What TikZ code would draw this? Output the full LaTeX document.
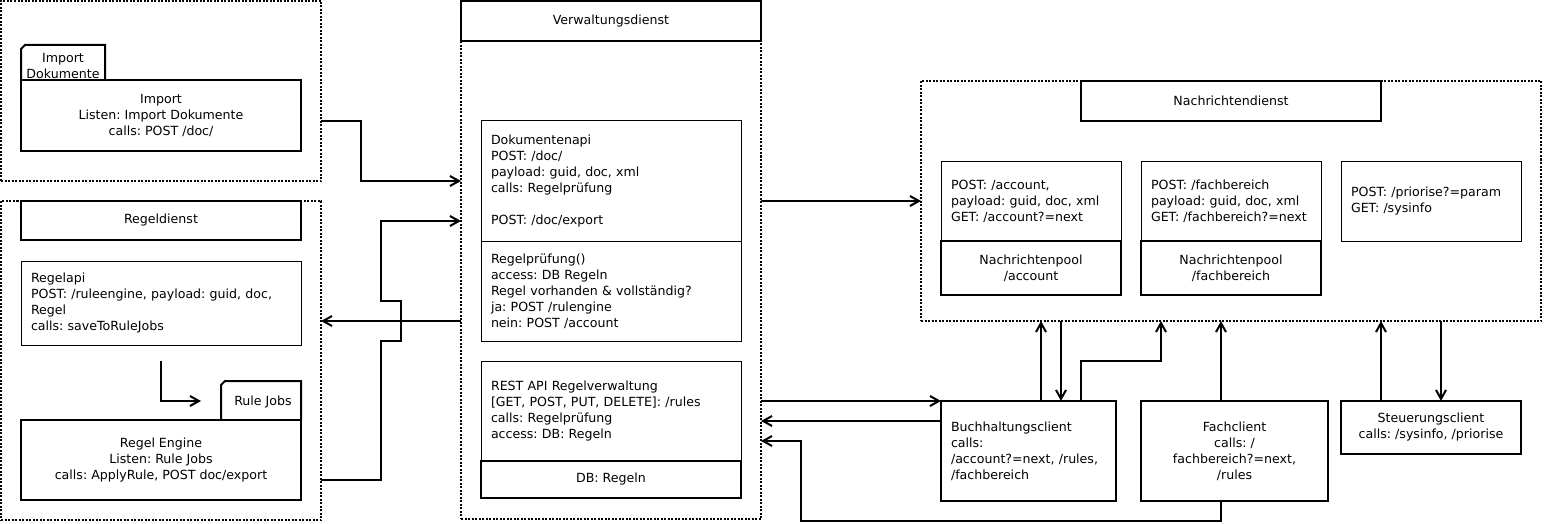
\documentclass[tikz,border=0pt]{standalone}
\usepackage{fontspec}
\setmainfont{DejaVu Sans}
\usetikzlibrary{arrows.meta}
\begin{document}
\frenchspacing
\begin{tikzpicture}[x=1pt,y=-1pt,
  every node/.style={font=\frenchspacing\fontsize{12.6}{16}\selectfont, inner sep=0pt, outer sep=0pt},
  cont/.style={draw, line width=2pt, dash pattern=on 2pt off 1.5pt},
  hbox/.style={draw, line width=2pt, align=center, fill=white},
  tbox/.style={draw, line width=1pt, align=left, inner xsep=10pt},
  tabshape/.style={draw, line width=2pt, fill=white},
  conn/.style={line width=2pt},
  arr/.style={conn, -{Straight Barb[length=9pt,width=10pt]}},
]
\useasboundingbox (0,0) rectangle (1544,524);

% containers
\node[cont, minimum width=320pt, minimum height=180pt] (impc) at (161,91) {};
\node[cont, minimum width=320pt, minimum height=319pt] (regc) at (161,360.5) {};
\node[cont, minimum width=300pt, minimum height=518pt] (verc) at (611,260) {};
\node[cont, minimum width=620pt, minimum height=240pt] (nachc) at (1231,201) {};

% Import area
\draw[tabshape] (21,80) -- (21,49) -- (25,45) -- (105,45) -- (105,80);
\node[align=center] (imptab) at (63,65.5) {Import\\Dokumente};
\node[hbox, minimum width=280pt, minimum height=71pt] (imp) at (161,115.5) {Import\\Listen: Import Dokumente\\calls: POST /doc/};

% Regeldienst area
\node[hbox, minimum width=280pt, minimum height=39pt] (regh) at (161,220.5) {Regeldienst};
\node[tbox, text width=260pt, minimum height=84pt] (regapi) at (161,303) {Regelapi\\POST: /ruleengine, payload: guid, doc,\\Regel\\calls: saveToRuleJobs};
\draw[tabshape] (221,420) -- (221,385) -- (225,381) -- (301,381) -- (301,420);
\node (rjtab) at (263,401.5) {Rule Jobs};
\node[hbox, minimum width=280pt, minimum height=80pt] (reng) at (161,460) {Regel Engine\\Listen: Rule Jobs\\calls: ApplyRule, POST doc/export};

% Verwaltungsdienst
\node[hbox, minimum width=300pt, minimum height=40pt] (verh) at (611,21) {Verwaltungsdienst};
\node[tbox, text width=240pt, minimum height=120pt] (dokapi) at (611,181) {Dokumentenapi\\POST: /doc/\\payload: guid, doc, xml\\calls: Regelprüfung\\[16pt]POST: /doc/export};
\node[tbox, text width=240pt, minimum height=100pt] (regpr) at (611,291) {Regelprüfung()\\access: DB Regeln\\Regel vorhanden \& vollständig?\\ja: POST /rulengine\\nein: POST /account};
\node[tbox, text width=240pt, minimum height=100pt] (rest) at (611,411) {REST API Regelverwaltung\\{[}GET, POST, PUT, DELETE{]}: /rules\\calls: Regelprüfung\\access: DB: Regeln};
\node[hbox, minimum width=260pt, minimum height=37pt] (db) at (611,479.5) {DB: Regeln};

% Nachrichtendienst
\node[hbox, minimum width=300pt, minimum height=40pt] (nachh) at (1231,101) {Nachrichtendienst};
\node[tbox, text width=160pt, minimum height=80pt] (acc) at (1031,201) {POST: /account,\\payload: guid, doc, xml\\GET: /account?=next};
\node[hbox, minimum width=180pt, minimum height=54pt] (accpool) at (1031,268) {Nachrichtenpool\\/account};
\node[tbox, text width=160pt, minimum height=80pt] (fach) at (1231,201) {POST: /fachbereich\\payload: guid, doc, xml\\GET: /fachbereich?=next};
\node[hbox, minimum width=180pt, minimum height=54pt] (fachpool) at (1231,268) {Nachrichtenpool\\/fachbereich};
\node[tbox, text width=160pt, minimum height=80pt] (prio) at (1431,201) {POST: /priorise?=param\\GET: /sysinfo};

% clients
\node[draw, line width=2pt, align=left, inner xsep=10pt, text width=155pt, minimum height=100pt] (buch) at (1028.5,451) {Buchhaltungsclient\\calls:\\/account?=next, /rules,\\/fachbereich};
\node[hbox, minimum width=187pt, minimum height=100pt] (fachc) at (1234.5,451) {Fachclient\\calls: /\\fachbereich?=next,\\/rules};
\node[hbox, minimum width=180pt, minimum height=53pt] (steu) at (1431,427.5) {Steuerungsclient\\calls: /sysinfo, /priorise};

% connector end points
\coordinate (c1s) at (321,121);
\coordinate (c1e) at (461,181);
\coordinate (c2s) at (461,321);
\coordinate (c2e) at (321,321);
\coordinate (c3s) at (321,480);
\coordinate (c3e) at (461,221);
\coordinate (c4s) at (161,361);
\coordinate (c4e) at (201,401);
\coordinate (c5s) at (761,201);
\coordinate (c5e) at (921,201);
\coordinate (c6s) at (761,401);
\coordinate (c6e) at (941,401);
\coordinate (c7s) at (941,421);
\coordinate (c7e) at (761,421);
\coordinate (c8s) at (1221,501);
\coordinate (c8e) at (761,441);
\coordinate (c9s) at (1041,401);
\coordinate (c9e) at (1041,321);
\coordinate (c10s) at (1061,321);
\coordinate (c10e) at (1061,401);
\coordinate (c11s) at (1081,401);
\coordinate (c11e) at (1161,321);
\coordinate (c12s) at (1221,401);
\coordinate (c12e) at (1221,321);
\coordinate (c13s) at (1381,401);
\coordinate (c13e) at (1381,321);
\coordinate (c14s) at (1441,321);
\coordinate (c14e) at (1441,401);

% connectors
\draw[arr] (c1s) -- (361,121) -- (361,181) -- (c1e);
\draw[arr] (c2s) -- (c2e);
\draw[arr] (c3s) -- (381,480) -- (381,341) -- (401,341) -- (401,301) -- (381,301) -- (381,221) -- (c3e);
\draw[arr] (c4s) -- (161,401) -- (c4e);
\draw[arr] (c5s) -- (c5e);
\draw[arr] (c6s) -- (c6e);
\draw[arr] (c7s) -- (c7e);
\draw[arr] (c8s) -- (1221,521) -- (801,521) -- (801,441) -- (c8e);
\draw[arr] (c9s) -- (c9e);
\draw[arr] (c10s) -- (c10e);
\draw[arr] (c11s) -- (1081,361) -- (1161,361) -- (c11e);
\draw[arr] (c12s) -- (c12e);
\draw[arr] (c13s) -- (c13e);
\draw[arr] (c14s) -- (c14e);
\end{tikzpicture}
\end{document}
